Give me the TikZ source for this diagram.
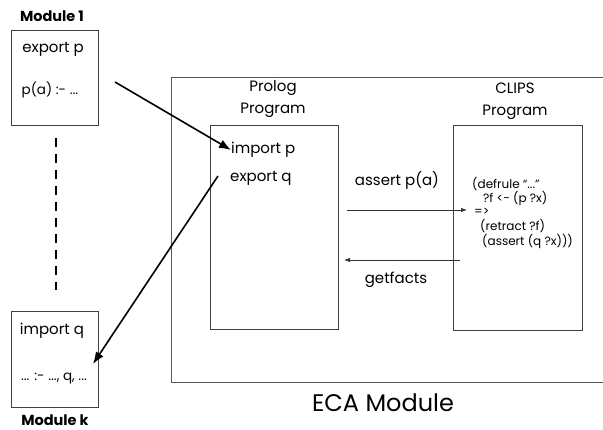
\documentclass[tikz,border=0pt]{standalone}
\usepackage{fontspec}
\setmainfont{Poppins}
\usetikzlibrary{arrows.meta}
\begin{document}
\begin{tikzpicture}[x=1pt,y=-1pt,
  box/.style={draw=black!75, line width=0.7pt, minimum width=#1, inner sep=0pt},
  txt/.style={inner sep=0pt, font=\fontsize{15}{18}\selectfont},
  small/.style={inner sep=0pt, font=\fontsize{13.5}{16}\selectfont},
  code/.style={inner sep=0pt, anchor=west, font=\fontsize{12}{14}\selectfont},
  lbl/.style={inner sep=0pt, font=\fontsize{14.5}{17}\selectfont\bfseries},
  title/.style={inner sep=0pt, align=center, font=\fontsize{15}{22}\selectfont},
  thin arrow/.style={draw=black!80, line width=0.7pt, -{Latex[length=6pt,width=4.5pt]}},
  thick arrow/.style={draw=black, line width=1.6pt, -{Latex[length=12pt,width=9pt]}}]
\useasboundingbox (0,0) rectangle (603,430);
% ECA module outer box
\draw[draw=black!65, line width=0.7pt] (603,77) -- (171,77) -- (171,382) -- (603,382);
\node[inner sep=0pt, font=\fontsize{24}{28}\selectfont] (eca) at (383,403) {ECA Module};
% Module 1
\node[lbl] (m1lbl) at (52,16) {Module 1};
\node[box=87pt, minimum height=95pt] (m1) at (54.5,77.5) {};
\node[txt] (m1a) at (53,49) {export p};
\node[small] (m1b) at (50,90) {p(a) :- ...};
% dashed connection
\coordinate (d1) at (56,138);
\coordinate (d2) at (56,290);
\draw[line width=1.4pt, dash pattern=on 9pt off 7pt] (d1) -- (d2);
% Module k
\node[box=87pt, minimum height=96pt] (mk) at (54.5,359) {};
\node[txt] (mka) at (52,331) {import q};
\node[small] (mkb) at (54,378) {... :- ..., q, ...};
\node[lbl, anchor=base] (mklbl) at (55,426) {Module k};
% Prolog
\node[title] (plt) at (273,99) {Prolog\\Program};
\node[box=128pt, minimum height=204pt] (pl) at (274,227) {};
\node[txt, anchor=west] (imp) at (231,150) {import p};
\node[txt, anchor=west] (exq) at (230,178) {export q};
% CLIPS
\node[title] (clt) at (515,101) {CLIPS\\Program};
\node[box=129pt, minimum height=205pt] (cl) at (517.5,227.5) {};
\node[code] (c1) at (472,184) {(defrule ``...''};
\node[code] (c2) at (483,198) {?f <- (p ?x)};
\node[code] (c3) at (474,212) {=>};
\node[code] (c4) at (480,226) {(retract ?f)};
\node[code] (c5) at (482,241) {(assert (q ?x)))};
% assert / getfacts
\coordinate (a1) at (347,210);
\coordinate (a2) at (467,210);
\draw[thin arrow] (a1) -- (a2);
\node[txt] (al) at (397,180) {assert p(a)};
\coordinate (g1) at (460,260);
\coordinate (g2) at (344,260);
\draw[thin arrow] (g1) -- (g2);
\node[txt] (gl) at (396,280) {getfacts};
% big arrows
\coordinate (b1) at (115,82);
\draw[thick arrow] (b1) -- (imp.west);
\coordinate (b2) at (218,176);
\coordinate (b3) at (93,364);
\draw[thick arrow] (b2) -- (b3);
\end{tikzpicture}
\end{document}
